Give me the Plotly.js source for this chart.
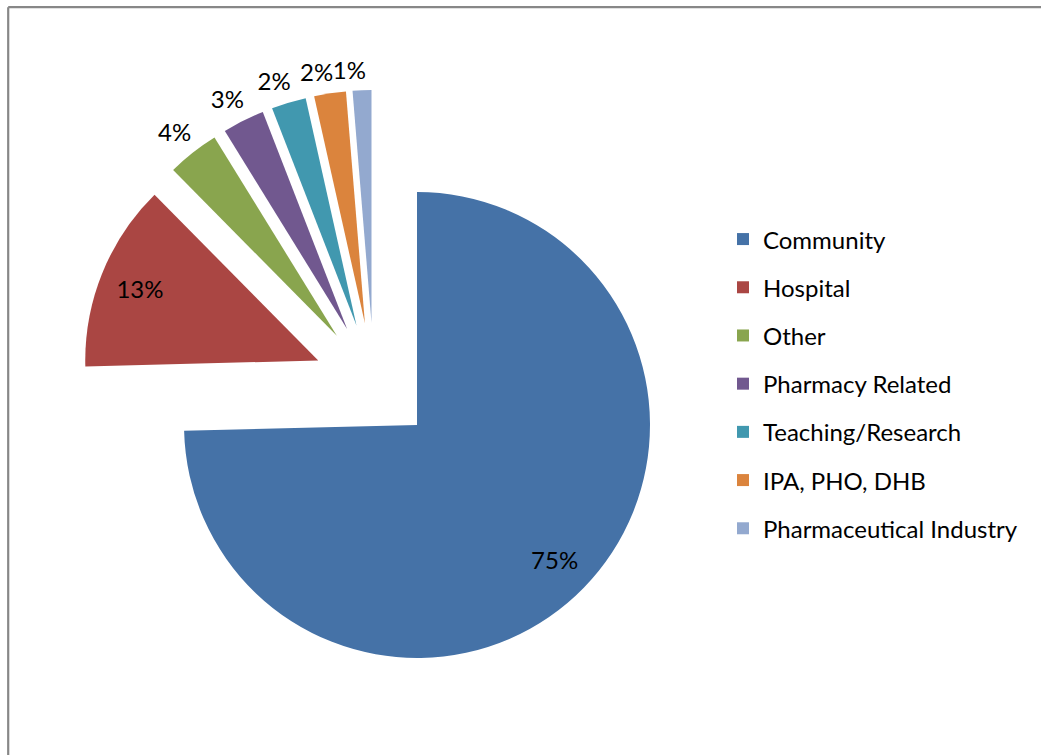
<!DOCTYPE html>
<html>
<head>
<meta charset="utf-8">
<script src="https://cdn.plot.ly/plotly-3.0.1.min.js"></script>
<style>
  html, body { margin: 0; padding: 0; background: #ffffff; }
  #chart { width: 1041px; height: 755px; }
</style>
</head>
<body>
<div id="chart"></div>
<script>
// ---- data ----
const categories = ['Community', 'Hospital', 'Other', 'Pharmacy Related', 'Teaching/Research', 'IPA, PHO, DHB', 'Pharmaceutical Industry'];
const shares = [74.6, 13.0, 3.6, 2.9, 2.4, 2.2, 1.3];
const sliceColors = ['#4572A7', '#AA4643', '#89A54E', '#71588F', '#4198AF', '#DB843D', '#93A9CF'];

// ---- styling ----
const PULL = 0.258;          // explosion of every slice (fraction of radius)
const LABEL_PULL = 0.283;    // radial placement of the outside percentage labels
const LABEL_ROTATION = 2.2;  // Excel centres outside labels over the slice; nudge to match
const domainX = [0.0777, 0.6408];
const domainY = [0.1045, 0.8809];
const labelFont = { family: 'Lato, "Open Sans", sans-serif', size: 24, color: '#000000' };
const isLarge = shares.map(v => v >= 10);
const clear = categories.map(() => 'rgba(0,0,0,0)');

// domain for a trace with a different pull but the same pie radius and centre
function scaledDomain(d, pull) {
  const mid = (d[0] + d[1]) / 2;
  const half = (d[1] - d[0]) / 2 * (1 + pull) / (1 + PULL);
  return [mid - half, mid + half];
}

const common = {
  type: 'pie',
  values: shares,
  sort: false,
  direction: 'clockwise',
  rotation: 0,
  texttemplate: '%{percent:.0%}'
};

const mainPie = Object.assign({}, common, {
  labels: categories.map(c => '<span style="font-size:24px;baseline-shift:4px">' + c + '</span>'),
  pull: categories.map(() => PULL),
  domain: { x: domainX, y: domainY },
  marker: { colors: sliceColors, line: { width: 0 } },
  textposition: categories.map(() => 'none'),
  hoverinfo: 'label+percent',
  showlegend: true
});

// transparent ring overlay: places the labels of the large slices near the rim
const innerLabels = Object.assign({}, common, {
  labels: categories,
  pull: categories.map(() => PULL),
  hole: 0.65,
  domain: { x: domainX, y: domainY },
  marker: { colors: clear, line: { width: 0 } },
  textposition: isLarge.map(b => b ? 'inside' : 'none'),
  insidetextorientation: 'horizontal',
  insidetextfont: labelFont,
  textfont: labelFont,
  hoverinfo: 'skip',
  showlegend: false
});

// one transparent overlay per small slice so its outside label is not stacked with the others
const outerLabels = categories.map((c, i) => i).filter(i => !isLarge[i]).map(i => Object.assign({}, common, {
  labels: categories,
  rotation: LABEL_ROTATION,
  pull: categories.map(() => LABEL_PULL),
  domain: { x: scaledDomain(domainX, LABEL_PULL), y: scaledDomain(domainY, LABEL_PULL) },
  marker: { colors: clear, line: { width: 0 } },
  textposition: categories.map((_, j) => j === i ? 'outside' : 'none'),
  outsidetextfont: labelFont,
  textfont: labelFont,
  hoverinfo: 'skip',
  showlegend: false
}));

const layout = {
  width: 1041,
  height: 755,
  margin: { l: 0, r: 0, t: 0, b: 0, pad: 0 },
  paper_bgcolor: '#ffffff',
  plot_bgcolor: '#ffffff',
  showlegend: true,
  legend: {
    x: 0.6945, y: 0.7219, xanchor: 'left', yanchor: 'top',
    font: { family: 'Lato, "Open Sans", sans-serif', size: 34.77, color: '#000000' },
    bgcolor: 'rgba(0,0,0,0)',
    borderwidth: 0,
    traceorder: 'normal'
  },
  shapes: [
    { type: 'line', xref: 'paper', yref: 'paper', x0: 0.00788, x1: 1.0, y0: 0.99046, y1: 0.99046,
      line: { color: '#878787', width: 2.2 } },
    { type: 'line', xref: 'paper', yref: 'paper', x0: 0.00788, x1: 0.00788, y0: 0.99046, y1: 0.0,
      line: { color: '#878787', width: 2.2 } }
  ]
};

Plotly.newPlot('chart', [mainPie, innerLabels].concat(outerLabels), layout, { displayModeBar: false, staticPlot: true });
</script>
</body>
</html>
